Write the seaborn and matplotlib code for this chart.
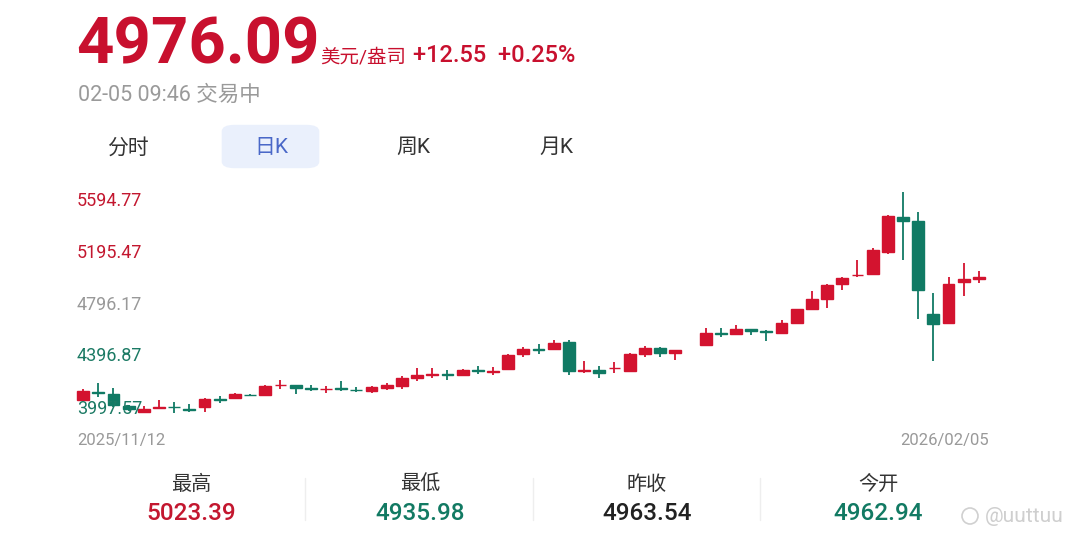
import numpy as np
import matplotlib.pyplot as plt
import seaborn as sns
from matplotlib.patches import FancyBboxPatch, Ellipse

# daily candles 2025/11/12 .. 2026/02/05 (nan = empty slot)
opens = [4092, 4150, 4134, 4045, 4008, 4035, 4042, 4026, 4039, 4098,
         4103, 4129, 4127, 4197, 4199, 4177, 4168, 4177, 4166, 4156,
         4175, 4194, 4248, 4274, 4280, 4271, 4305, 4296, 4312, 4421,
         4460, 4457, 4512, 4298, 4307, 4320, 4302, 4423, 4464, 4428,
         np.nan, 4488, 4575, 4565, 4603, 4591, 4572, 4649, 4745, 4817,
         4925, 4990, 4999, 5161, 5413, 5382, 4711, 4648, 4940, 4962.94]
highs = [4170, 4212, 4175, 4052, 4045, 4091, 4079, 4066, 4106, 4120,
         4140, 4137, 4200, 4235, 4203, 4199, 4194, 4228, 4187, 4195,
         4211, 4262, 4320, 4320, 4307, 4318, 4336, 4327, 4423, 4475,
         4493, 4524, 4524, 4375, 4336, 4367, 4432, 4478, 4475, 4455,
         np.nan, 4608, 4608, 4630, 4605, 4593, 4668, 4749, 4877, 4927,
         4980, 5101, 5185, 5423, 5594.77, 5449, 4865, 4980, 5081, 5023.39]
lows = [4088, 4112, 4043, 4015, 3997.57, 4024, 4000, 4003, 4007, 4072,
        4100, 4120, 4120, 4170, 4132, 4156, 4139, 4156, 4147, 4142,
        4163, 4170, 4228, 4248, 4235, 4262, 4276, 4271, 4307, 4403,
        4421, 4452, 4271, 4288, 4248, 4284, 4298, 4403, 4399, 4380,
        np.nan, 4488, 4548, 4560, 4560, 4517, 4570, 4639, 4740, 4752,
        4884, 4976, 4997, 5144, 5101, 4673, 4375, 4648, 4841, 4935.98]
closes = [4158, 4145, 4055, 4023, 4030, 4040, 4040, 4022, 4096, 4094,
          4132, 4126, 4194, 4201, 4180, 4173, 4172, 4172, 4161, 4183,
          4199, 4248, 4271, 4280, 4274, 4307, 4300, 4300, 4416, 4457,
          4454, 4504, 4302, 4305, 4284, 4325, 4423, 4464, 4428, 4452,
          np.nan, 4572, 4570, 4603, 4591, 4579, 4649, 4745, 4817, 4920,
          4973, 4996, 5173, 5418, 5382, 4884, 4639, 4928, 4963.54, 4976.09]

first_date, last_date = '2025/11/12', '2026/02/05'
y_labels = ['5594.77', '5195.47', '4796.17', '4396.87', '3997.57']
y_label_colors = ['#c3172f', '#c3172f', '#999999', '#1b7a64', '#1b7a64']

stat_names = ['最高', '最低', '昨收', '今开']
stat_values = ['5023.39', '4935.98', '4963.54', '4962.94']
stat_colors = ['#c3172f', '#127a63', '#222222', '#127a63']

last_price, unit, change = '4976.09', '美元/盎司', '+12.55  +0.25%'
status = '02-05 09:46 交易中'
tabs = ['分时', '日K', '周K', '月K']

RED, GREEN = '#d3132f', '#107a64'

sns.set_theme(style='white')
plt.rcParams['font.family'] = ['Roboto', 'Noto Sans CJK SC', 'DejaVu Sans']

W, H = 1080, 550
fig = plt.figure(figsize=(W / 100, H / 100), dpi=100)
fig.patch.set_facecolor('white')


def fx(x):
    return x / W


def fy(y):
    return 1 - y / H


# main candle axes
top, bot = 191.5, 413
ax = fig.add_axes([fx(77), fy(bot), fx(988) - fx(77), fy(top) - fy(bot)])
o = np.array(opens)
h = np.array(highs)
l = np.array(lows)
c = np.array(closes)
xs = np.arange(len(opens))
cols = np.where(c >= o, RED, GREEN)
ok = ~np.isnan(o)

ax.vlines(xs[ok], l[ok], h[ok], colors=cols[ok], linewidth=1.3, clip_on=False)
ax.bar(xs[ok], np.abs(c - o)[ok], bottom=np.minimum(o, c)[ok], width=0.78,
       color=cols[ok], edgecolor=cols[ok], linewidth=1.0, clip_on=False)

ax.set_xlim(-0.4, len(opens) - 0.4)
ax.set_ylim(3997.57, 5594.77)
ax.set_xticks([])
ax.set_yticks([])
sns.despine(ax=ax, left=True, bottom=True)
ax.patch.set_alpha(0)

# y labels spread evenly from the top to the bottom of the chart
c_top = (bot - 200.5) / (bot - top)
c_bot = (bot - 408.5) / (bot - top)
for i, (lab, col) in enumerate(zip(y_labels, y_label_colors)):
    yy = c_top - i * (c_top - c_bot) / (len(y_labels) - 1)
    ax.text(0, yy, lab, transform=ax.transAxes, ha='left', va='center',
            fontsize=13, color=col, zorder=1)

fig.text(fx(77), fy(440.5), first_date, ha='left', va='center', fontsize=12, color='#999999')
fig.text(fx(989), fy(440.5), last_date, ha='right', va='center', fontsize=12, color='#999999')

# header
fig.text(fx(76), fy(64), last_price, ha='left', va='baseline', fontsize=47,
         fontweight='bold', color='#c8102e')
fig.text(fx(320), fy(62), unit, ha='left', va='baseline', fontsize=14, color='#c8102e')
fig.text(fx(413), fy(62), change, ha='left', va='baseline', fontsize=17,
         fontweight='medium', color='#c8102e')
fig.text(fx(78), fy(101), status, ha='left', va='baseline', fontsize=15.5, color='#9a9a9a')

# tabs
tab_x = [128, 271, 413, 556]
fig.patches.append(FancyBboxPatch((fx(226), fy(166)), fx(89), fy(127) - fy(166),
                                  boxstyle='round,pad=0.004,rounding_size=0.012',
                                  transform=fig.transFigure, facecolor='#eaf0fc',
                                  edgecolor='none', zorder=0))
for t, x in zip(tabs, tab_x):
    col = '#4a68c8' if t == '日K' else '#333333'
    fig.text(fx(x), fy(147.5), t, ha='center', va='center', fontsize=15, color=col)

# bottom stats
stat_x = [191, 420, 647, 878]
for name, val, col, x in zip(stat_names, stat_values, stat_colors, stat_x):
    fig.text(fx(x), fy(484), name, ha='center', va='center', fontsize=14.5, color='#333333')
    fig.text(fx(x), fy(514), val, ha='center', va='center', fontsize=17.5,
             fontweight='medium', color=col)
for x in [305, 533, 760]:
    fig.add_artist(plt.Line2D([fx(x), fx(x)], [fy(478), fy(520)], color='#eeeeee',
                              linewidth=1, transform=fig.transFigure))

# watermark
fig.add_artist(Ellipse((fx(970), fy(516)), 16 / W, 16 / H, transform=fig.transFigure,
                       facecolor='none', edgecolor='#d0d0d0', linewidth=1.2))
fig.text(fx(985), fy(517), '@uuttuu', ha='left', va='center', fontsize=15, color='#cfcfcf')

fig.savefig('out.png', dpi=100, facecolor='white')
